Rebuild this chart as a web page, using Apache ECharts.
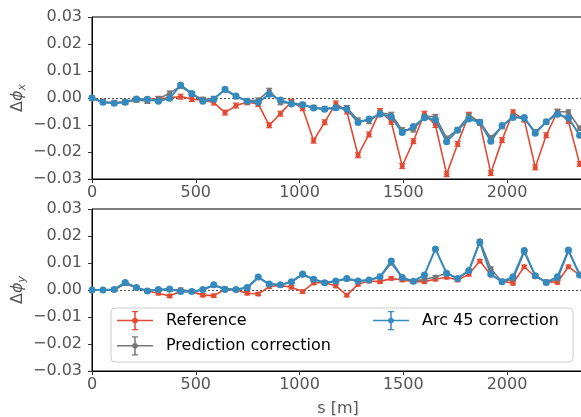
<!DOCTYPE html>
<html><head><meta charset="utf-8">
<script src="https://cdn.jsdelivr.net/npm/echarts@6/dist/echarts.min.js"></script>
<style>html,body{margin:0;padding:0;background:#fff}#c{width:581px;height:417px}</style>
</head><body><div id="c"></div>
<script>
// positions along the ring [m]
const sPos = [0,53,107,160,214,267,320,374,427,481,534,587,641,694,748,801,854,908,961,1015,1068,1121,1175,1228,1282,1335,1388,1442,1495,1549,1602,1655,1709,1762,1816,1869,1922,1976,2029,2083,2136,2189,2243,2296,2350];
// Δφx
const dxRef  = [0,-0.0014,-0.0018,-0.0015,-0.0006,-0.0006,-0.0003,0.0001,0.0005,-0.0004,-0.0008,-0.0017,-0.0054,-0.0028,-0.0016,-0.0022,-0.0101,-0.0058,-0.0014,-0.0038,-0.0158,-0.0090,-0.0020,-0.0050,-0.0212,-0.0135,-0.0048,-0.0088,-0.0252,-0.0160,-0.0058,-0.0100,-0.0282,-0.0170,-0.0062,-0.0092,-0.0278,-0.0156,-0.0053,-0.0080,-0.0257,-0.0138,-0.0051,-0.0085,-0.0244];
const dxPred = [0,-0.0016,-0.0018,-0.0015,-0.0007,-0.0012,-0.0003,0.0018,0.0044,0.0014,-0.0005,-0.0002,0.0030,0.0005,-0.0010,-0.0008,0.0028,-0.0017,-0.0018,-0.0024,-0.0035,-0.0039,-0.0035,-0.0036,-0.0082,-0.0087,-0.0055,-0.0061,-0.0118,-0.0118,-0.0068,-0.0069,-0.0149,-0.0117,-0.0066,-0.0088,-0.0147,-0.0106,-0.0068,-0.0078,-0.0125,-0.0090,-0.0050,-0.0052,-0.0112];
const dxArc  = [0,-0.0016,-0.0019,-0.0016,-0.0004,-0.0005,-0.0012,-0.0001,0.0048,0.0017,-0.0012,-0.0005,0.0032,0.0007,-0.0012,-0.0016,0.0014,-0.0007,-0.0022,-0.0025,-0.0037,-0.0042,-0.0036,-0.0041,-0.0091,-0.0078,-0.0060,-0.0069,-0.0128,-0.0106,-0.0073,-0.0081,-0.0162,-0.0119,-0.0078,-0.0090,-0.0160,-0.0102,-0.0072,-0.0072,-0.0131,-0.0088,-0.0060,-0.0073,-0.0138];
// Δφy
const dyRef  = [0,0,0.0001,0.0024,0.0008,-0.0004,-0.0012,-0.0022,-0.0005,-0.0006,-0.0019,-0.0021,0.0002,0.0000,-0.0012,-0.0015,0.0012,0.0017,0.0010,-0.0006,0.0026,0.0028,0.0015,-0.0019,0.0021,0.0033,0.0031,0.0043,0.0037,0.0031,0.0031,0.0040,0.0047,0.0037,0.0058,0.0107,0.0056,0.0033,0.0025,0.0086,0.0049,0.0031,0.0028,0.0086,0.0056];
const dyPred = [0,0,0.0001,0.0024,0.0008,-0.0002,0.0000,0.0000,0.0002,-0.0005,0.0000,0.0017,0.0006,0.0002,0.0008,0.0045,0.0022,0.0019,0.0030,0.0055,0.0040,0.0027,0.0033,0.0040,0.0033,0.0037,0.0047,0.0099,0.0046,0.0032,0.0040,0.0048,0.0062,0.0043,0.0070,0.0182,0.0080,0.0030,0.0040,0.0140,0.0053,0.0028,0.0040,0.0145,0.0056];
const dyArc  = [0,0,0.0002,0.0028,0.0009,-0.0004,0.0002,0.0004,-0.0006,-0.0006,0.0002,0.0019,0.0002,0.0002,0.0009,0.0048,0.0022,0.0019,0.0031,0.0059,0.0040,0.0027,0.0033,0.0043,0.0033,0.0037,0.0049,0.0107,0.0046,0.0032,0.0056,0.0152,0.0062,0.0043,0.0072,0.0177,0.0058,0.0031,0.0049,0.0146,0.0053,0.0028,0.0049,0.0148,0.0056];
// error bar half-widths
const errX = {ref: 0.0009, pred: 0.0008, arc: 0.0005};
const errY = {ref: 0.0006, pred: 0.0005, arc: 0.0004};
const yTicks = [-0.03,-0.02,-0.01,0,0.01,0.02,0.03];
const xTicks = [0,500,1000,1500,2000];

const C = {ref:'#E24A33', pred:'#777777', arc:'#348ABD'};
const names = {ref:'Reference', pred:'Prediction correction', arc:'Arc 45 correction'};
const FONT = 'DejaVu Sans';

function errRender(params, api){
  const x = api.value(0), y = api.value(1), e = api.value(2);
  const hi = api.coord([x, y+e]), lo = api.coord([x, y-e]);
  const cap = 3;
  const st = {stroke: api.visual('color'), lineWidth: 1.2};
  return {type:'group', children:[
    {type:'line', shape:{x1:hi[0],y1:hi[1],x2:lo[0],y2:lo[1]}, style:st},
    {type:'line', shape:{x1:hi[0]-cap,y1:hi[1],x2:hi[0]+cap,y2:hi[1]}, style:st},
    {type:'line', shape:{x1:lo[0]-cap,y1:lo[1],x2:lo[0]+cap,y2:lo[1]}, style:st}
  ]};
}

const xMax = 2371;
function xAxisDef(gi, withName){
  return {
    type:'value', gridIndex: gi, min:0, max:xMax, interval:500,
    axisLine:{show:true, onZero:false, lineStyle:{color:'#000', width:1}},
    axisTick:{show:true, length:4, lineStyle:{color:'#333'}},
    splitLine:{show:false},
    axisLabel:{color:'#555', fontFamily:FONT, fontSize:16, margin:6, showMaxLabel:false,
      formatter: v => xTicks.indexOf(v) >= 0 ? String(v) : ''},
    name: withName ? 's [m]' : '', nameLocation:'middle', nameGap: 30, nameMoveOverlap:false,
    nameTextStyle:{color:'#555', fontFamily:FONT, fontSize:16}
  };
}
function yAxisDef(gi, sub){
  return {
    type:'value', gridIndex: gi, min:-0.03, max:0.03, interval:0.01,
    axisLine:{show:true, lineStyle:{color:'#000', width:1}},
    axisTick:{show:true, length:4, lineStyle:{color:'#333'}},
    splitLine:{show:false},
    axisLabel:{color:'#555', fontFamily:FONT, fontSize:16, margin:10,
      formatter: v => { const t = yTicks.find(k => Math.abs(k - v) < 1e-9); const val = t === undefined ? v : t; return (val < -1e-12 ? '\u2212' : '') + Math.abs(val).toFixed(2); }},
    name: '{d|Δ}{p|ϕ}{s|' + sub + '}', nameLocation:'middle', nameRotate:90, nameGap:64, nameMoveOverlap:false,
    nameTextStyle:{color:'#555', fontFamily:FONT, rich:{
      d:{fontSize:16, color:'#555', fontFamily:FONT, lineHeight:20},
      p:{fontSize:16, color:'#555', fontFamily:FONT, fontStyle:'italic', lineHeight:20},
      s:{fontSize:11, color:'#555', fontFamily:FONT, fontStyle:'italic', lineHeight:11, padding:[9,0,0,0]}
    }}
  };
}

const series = [];
function addPanel(gi, data, errs){
  ['ref','pred','arc'].forEach((k, idx) => {
    const z = 3 + idx*2;
    series.push({
      type:'custom', name:'_err_'+k+gi, xAxisIndex:gi, yAxisIndex:gi,
      itemStyle:{color:C[k]}, renderItem: errRender, z: z,
      data: sPos.map((s,i) => [s, data[k][i], errs[k]]), animation:false, silent:true
    });
    const ls = {
      type:'line', name:names[k], xAxisIndex:gi, yAxisIndex:gi, z: z+1,
      data: sPos.map((s,i) => [s, data[k][i]]),
      symbol:'circle', symbolSize: k==='arc' ? 7 : 5, showSymbol:true,
      itemStyle:{color:C[k]}, lineStyle:{color:C[k], width: k==='arc' ? 2 : 1.6},
      animation:false, silent:true
    };
    if (k === 'ref') {
      ls.markLine = {silent:true, symbol:['none','none'], animation:false, label:{show:false},
        lineStyle:{color:'#222', type:[2,2], width:0.8}, data:[{yAxis:0}], z:1};
    }
    series.push(ls);
  });
}
addPanel(0, {ref:dxRef, pred:dxPred, arc:dxArc}, errX);
addPanel(1, {ref:dyRef, pred:dyPred, arc:dyArc}, errY);

const icon = 'path://M0 9.25H36V10.75H0Z M17.25 1H18.75V19H17.25Z M15 0.4H21V1.6H15Z M15 18.4H21V19.6H15Z M15.2 10A2.8 2.8 0 1 1 20.8 10A2.8 2.8 0 1 1 15.2 10Z';
const legTxt = {color:'#000', fontFamily:FONT, fontSize:16, padding:[0,0,0,8]};

const chart = echarts.init(document.getElementById('c'), null, {renderer:'canvas'});
chart.setOption({
  animation:false,
  backgroundColor:'#fff',
  grid:[
    {left:92, right:-3, top:17, height:162, show:true, borderColor:'#000', borderWidth:1, backgroundColor:'transparent', outerBoundsMode:'none', containLabel:false},
    {left:92, right:-3, top:209, height:162, show:true, borderColor:'#000', borderWidth:1, backgroundColor:'transparent', outerBoundsMode:'none', containLabel:false}
  ],
  xAxis:[xAxisDef(0,false), xAxisDef(1,true)],
  yAxis:[yAxisDef(0,'x'), yAxisDef(1,'y')],
  graphic:[{type:'rect', z:3, shape:{x:111, y:308, width:462, height:54, r:4},
    style:{fill:'rgba(255,255,255,0.85)', stroke:'#cccccc', lineWidth:1}}],
  legend:[
    {orient:'vertical', left:117, top:311, padding:0, itemWidth:36, itemHeight:20, itemGap:6, z:5,
      selectedMode:false, textStyle:legTxt,
      data:[{name:'Reference', icon:icon}, {name:'Prediction correction', icon:icon}]},
    {orient:'vertical', left:373, top:311, padding:0, itemWidth:36, itemHeight:20, itemGap:6, z:5,
      selectedMode:false, textStyle:legTxt,
      data:[{name:'Arc 45 correction', icon:icon}]}
  ],
  series: series
});
</script></body></html>
